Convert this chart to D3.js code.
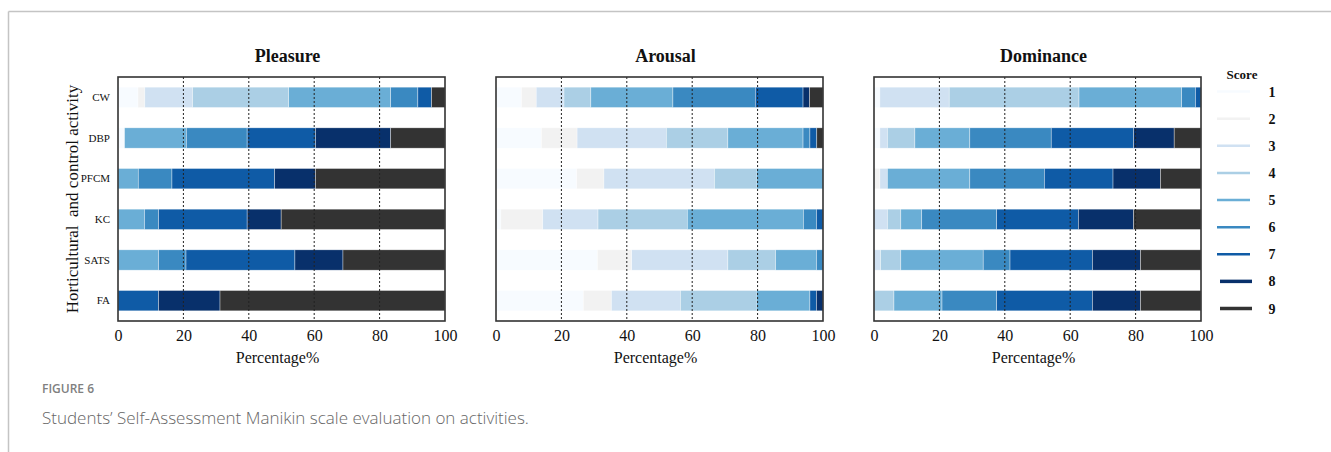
<!DOCTYPE html>
<html>
<head>
<meta charset="utf-8">
<script src="https://d3js.org/d3.v7.min.js"></script>
<style>
    body {margin: 0; background: #fff;}
    svg {display: block;}
</style>
</head>
<body>
<div id="chart"></div>
<script>
// activities (top to bottom) and score levels
var activities = ["CW", "DBP", "PFCM", "KC", "SATS", "FA"];
var scores = ["1", "2", "3", "4", "5", "6", "7", "8", "9"];
var scoreColors = ["#f7fbff", "#f2f2f2", "#d0e1f2", "#abcfe5", "#6aaed6", "#3a89c1", "#0f5ba6", "#08306b", "#333333"];
var xTicks = [0, 20, 40, 60, 80, 100];

// percentage of each score 1..9, one row per activity
var pleasure = [
    [6.1, 2.1, 14.6, 29.4, 31.2, 8.3, 4.2, 0, 4.1],
    [2.0, 0, 0, 0, 18.9, 18.6, 20.9, 23.0, 16.6],
    [0, 0, 0, 0, 6.2, 10.3, 31.4, 12.5, 39.6],
    [0, 0, 0, 0, 8.1, 4.3, 27.1, 10.4, 50.1],
    [0, 0, 0, 0, 12.4, 8.4, 33.3, 14.7, 31.2],
    [0, 0, 0, 0, 0, 0, 12.4, 18.8, 68.8]
];
var arousal = [
    [7.8, 4.5, 8.5, 8.2, 25.1, 25.2, 14.6, 2.0, 4.1],
    [13.9, 10.9, 27.3, 18.8, 23.0, 2.1, 2.1, 0, 1.9],
    [24.7, 8.3, 33.8, 12.8, 20.4, 0, 0, 0, 0],
    [1.5, 12.8, 16.9, 27.3, 35.5, 4.0, 2.0, 0, 0],
    [31.0, 10.5, 29.4, 14.6, 12.5, 2.0, 0, 0, 0],
    [26.7, 8.6, 21.1, 23.2, 16.4, 0, 2.0, 2.0, 0]
];
var dominance = [
    [1.8, 0, 21.2, 39.7, 31.4, 4.2, 1.7, 0, 0],
    [1.8, 0, 2.3, 8.4, 16.8, 24.9, 25.2, 12.4, 8.2],
    [0, 1.8, 2.3, 0, 25.2, 22.8, 21.0, 14.5, 12.4],
    [0, 0, 4.1, 4.1, 6.4, 22.9, 25.0, 16.9, 20.6],
    [0, 0, 2.0, 6.2, 25.2, 8.2, 25.2, 14.7, 18.5],
    [0, 0, 0, 6.1, 14.7, 16.7, 29.3, 14.7, 18.5]
];

var panels = [
    {title: "Pleasure", values: pleasure, left: 118},
    {title: "Arousal", values: arousal, left: 496},
    {title: "Dominance", values: dominance, left: 874}
];

var SERIF = '"Liberation Serif", "Times New Roman", serif';
var SANS = '"Open Sans", "Noto Sans", sans-serif';

var W = 1331, H = 452;
var plotW = 327, plotTop = 77, plotH = 244;

var svg = d3.select("#chart").append("svg")
    .attr("width", W)
    .attr("height", H);

// page frame
svg.append("line").attr("x1", 8.5).attr("x2", W).attr("y1", 11.5).attr("y2", 11.5)
    .attr("stroke", "#c4c4c4").attr("stroke-width", 1.5);
svg.append("line").attr("x1", 8.5).attr("x2", 8.5).attr("y1", 11.5).attr("y2", H)
    .attr("stroke", "#c4c4c4").attr("stroke-width", 1.5);

var color = d3.scaleOrdinal().domain(scores).range(scoreColors);

panels.forEach(function(p, pi) {
    var g = svg.append("g").attr("transform", "translate(" + p.left + "," + plotTop + ")");

    var x = d3.scaleLinear().domain([0, 100]).range([0, plotW]);
    var y = d3.scaleBand().domain(activities).range([0, plotH]).paddingInner(0.5).paddingOuter(0.25);

    var rows = activities.map(function(a, i) {
        var r = {activity: a};
        scores.forEach(function(s, j) { r[s] = p.values[i][j]; });
        return r;
    });
    var series = d3.stack().keys(scores)(rows);

    g.selectAll(".layer")
        .data(series)
        .enter()
        .append("g")
        .attr("fill", d => color(d.key))
        .selectAll("rect")
        .data(d => d.filter(v => v[1] - v[0] > 0))
        .enter()
        .append("rect")
        .attr("x", d => x(d[0]))
        .attr("y", d => y(d.data.activity))
        .attr("width", d => x(d[1]) - x(d[0]))
        .attr("height", y.bandwidth())
        .attr("stroke", "#ffffff")
        .attr("stroke-opacity", 0.6)
        .attr("stroke-width", 0.6);

    // dotted grid lines
    g.selectAll(".grid")
        .data(xTicks.slice(1, -1))
        .enter()
        .append("line")
        .attr("x1", d => x(d)).attr("x2", d => x(d))
        .attr("y1", 0).attr("y2", plotH)
        .attr("stroke", "#222")
        .attr("stroke-width", 1)
        .attr("stroke-dasharray", "2,2");

    // frame
    g.append("rect")
        .attr("x", 0).attr("y", 0)
        .attr("width", plotW).attr("height", plotH)
        .attr("fill", "none")
        .attr("stroke", "#333")
        .attr("stroke-width", 1.6);

    // x axis
    var xa = g.append("g")
        .attr("font-family", SERIF)
        .attr("transform", "translate(0," + plotH + ")")
        .call(d3.axisBottom(x).tickValues(xTicks).tickSize(0).tickPadding(9));
    xa.attr("font-family", SERIF).attr("font-size", 16);
    xa.select(".domain").remove();
    xa.selectAll("text")
        .style("font-family", SERIF)
        .style("font-size", "16px")
        .attr("fill", "#111");

    g.append("text")
        .attr("x", plotW / 2 - 4)
        .attr("y", plotH + 42)
        .attr("text-anchor", "middle")
        .style("font-family", SERIF)
        .style("font-size", "16px")
        .attr("fill", "#111")
        .text("Percentage%");

    // title
    g.append("text")
        .attr("x", plotW / 2 + 6)
        .attr("y", -15)
        .attr("text-anchor", "middle")
        .style("font-family", SERIF)
        .style("font-size", "18px")
        .style("font-weight", "bold")
        .attr("fill", "#111")
        .text(p.title);

    if (pi === 0) {
        var ya = g.append("g")
            .call(d3.axisLeft(y).tickSize(0).tickPadding(8));
        ya.attr("font-family", SERIF).attr("font-size", 11);
        ya.select(".domain").remove();
        ya.selectAll("text")
            .style("font-family", SERIF)
            .style("font-size", "11px")
            .attr("fill", "#111");

        g.append("text")
            .attr("transform", "translate(-40," + (plotH / 2) + ") rotate(-90)")
            .attr("text-anchor", "middle")
            .style("font-family", SERIF)
            .style("font-size", "17px")
            .style("white-space", "pre")
            .attr("fill", "#111")
            .text("Horticultural  and control activity");
    }
});

// legend
var leg = svg.append("g");
leg.append("text")
    .attr("x", 1242).attr("y", 79)
    .attr("text-anchor", "middle")
    .style("font-family", SERIF)
    .style("font-size", "13px")
    .style("font-weight", "bold")
    .attr("fill", "#111")
    .text("Score");

var ly = d3.scaleLinear().domain([0, 8]).range([91.5, 308.5]);
scores.forEach(function(s, i) {
    var thick = i >= 7;
    leg.append("line")
        .attr("x1", thick ? 1220 : 1217)
        .attr("x2", thick ? 1252 : 1250)
        .attr("y1", ly(i)).attr("y2", ly(i))
        .attr("stroke", color(s))
        .attr("stroke-width", thick ? 3.5 : 2.5);
    leg.append("text")
        .attr("x", 1272).attr("y", ly(i) + 5)
        .attr("text-anchor", "middle")
        .style("font-family", SERIF)
        .style("font-size", "14px")
        .style("font-weight", "bold")
        .attr("fill", "#111")
        .text(s);
});

// caption
svg.append("text")
    .attr("x", 42).attr("y", 393)
    .style("font-family", SANS)
    .style("font-size", "12px")
    .style("font-weight", "600")
    .attr("fill", "#808080")
    .text("FIGURE 6");
svg.append("text")
    .attr("x", 42).attr("y", 424)
    .style("font-family", SANS)
    .style("font-size", "17px")
    .style("font-weight", "300")
    .attr("fill", "#666")
    .text("Students\u2019 Self-Assessment Manikin scale evaluation on activities.");
</script>
</body>
</html>
